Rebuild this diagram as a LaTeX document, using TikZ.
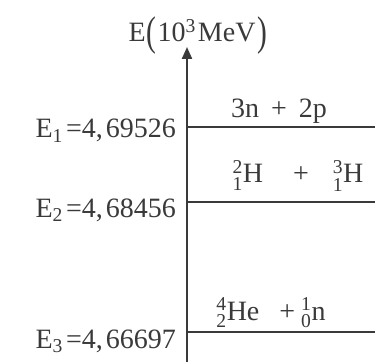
\documentclass[tikz,border=0pt]{standalone}
\usepackage{amsmath}
\usepackage{graphicx}
\usepackage{fontspec}
\setmainfont{Liberation Serif}
\usetikzlibrary{positioning,arrows.meta}
\definecolor{inkgray}{HTML}{3A3A3A}

\newcommand{\nucl}[3]{$^{\text{#1}}_{\text{#2}}$#3}
\newcommand{\tallparen}[1]{\raisebox{-4pt}{\scalebox{1.05}[1.48]{#1}}}

\begin{document}
\begin{tikzpicture}[x=1pt, y=1pt,
    level/.style={draw=inkgray, line width=1.6pt},
    elabel/.style={anchor=base east, inner sep=0pt, text=inkgray, font=\fontsize{28}{34}\selectfont},
    react/.style={anchor=base, inner sep=0pt, text=inkgray, font=\fontsize{28}{34}\selectfont}]
    \useasboundingbox (0,0) rectangle (375,362);
    % energy axis
    \coordinate (base) at (187,0);
    \coordinate (tip) at (187,315);
    \draw[draw=inkgray, line width=2.2pt, -{Triangle[length=12pt, width=10pt]}] (base) -- (tip);
    \node[react] (title) at (198,320) {E\hspace{1pt}\tallparen{(}\hspace{1pt}10$^{\text{3}}$\hspace{2pt}MeV\hspace{2pt}\tallparen{)}};
    % levels
    \coordinate (e1) at (187,235);
    \coordinate (e1end) at (375,235);
    \coordinate (e2) at (187,160);
    \coordinate (e2end) at (375,160);
    \coordinate (e3) at (187,30);
    \coordinate (e3end) at (375,30);
    \draw[level] (e1) -- (e1end);
    \draw[level] (e2) -- (e2end);
    \draw[level] (e3) -- (e3end);
    \node[elabel] (lab1) at (176,224) {E$_{\text{1}}$\hspace{3pt}=4,\hspace{3pt}69526};
    \node[elabel] (lab2) at (176,145) {E$_{\text{2}}$\hspace{3pt}=4,\hspace{3pt}68456};
    \node[elabel] (lab3) at (176,14) {E$_{\text{3}}$\hspace{3pt}=4,\hspace{3pt}66697};
    % reactions above each level
    \node[react] (r1) at (279,244) {3n\hspace{12pt}+\hspace{12pt}2p};
    \node[react] (r2) at (298,179) {\nucl{2}{1}{H}\hspace{30pt}+\hspace{24pt}\nucl{3}{1}{H}};
    \node[react] (r3) at (271,42) {\nucl{4}{2}{He}\hspace{20pt}+\hspace{6pt}\nucl{1}{0}{n}};
\end{tikzpicture}
\end{document}
